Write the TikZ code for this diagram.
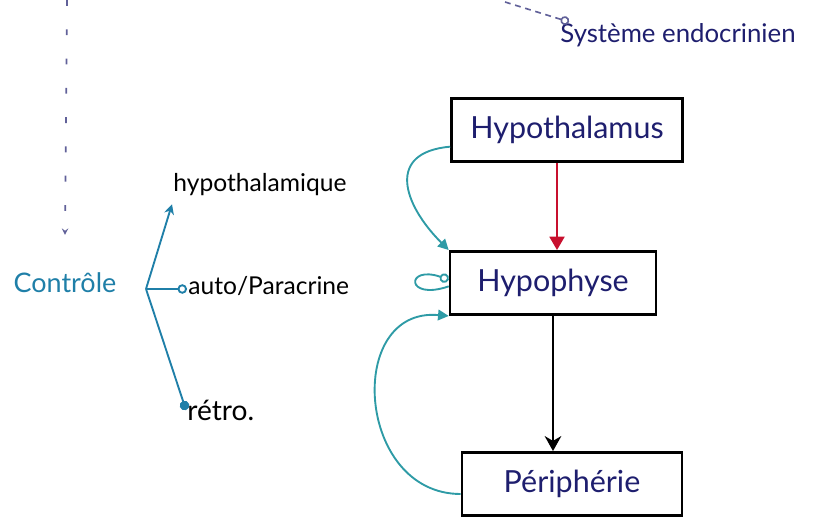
\documentclass[tikz,border=0pt]{standalone}
\usepackage{fontspec}
\setmainfont{Lato}
\usepackage{tikz}
\usetikzlibrary{arrows,arrows.meta,positioning,shapes}
\definecolor{inkblue}{HTML}{1E1E6E}
\definecolor{inkteal}{HTML}{2E9BA6}
\definecolor{inkred}{HTML}{C8102E}
\definecolor{inkctrl}{HTML}{1F7FA8}
\tikzset{
	organ/.style = {draw, line width = 2.2pt, rectangle, minimum height = 1.9cm, text = inkblue, font = \fontsize{26}{30}\selectfont},
	hand/.style = {inner sep = 1pt, font = \fontsize{21}{24}\selectfont},
	feedback/.style = {-{Triangle[length = 3.2mm, width = 3.2mm]}, line width = 1.6pt, color = inkteal},
	ctrl arrow/.style = {line width = 1.6pt, color = inkctrl},
	hint/.style = {dashed, line width = 1.4pt, dash pattern = on 5pt off 20pt, color = inkblue!70}
}
\begin{document}
\begin{tikzpicture}[x = 0.03cm, y = -0.03cm]
	\useasboundingbox (0, 0) rectangle (827, 526);

	% systeme endocrinien
	\node [organ, minimum width = 6.93cm] (hth) at (567, 130) {Hypothalamus};
	\node [organ, minimum width = 6.18cm] (hyp) at (553, 283) {Hypophyse};
	\node [organ, minimum width = 6.6cm] (per) at (572, 484) {Périphérie};
	\node [hand, text = inkblue, font = \fontsize{22}{26}\selectfont] (sys) at (678, 35) {Système endocrinien};

	\draw [-{Triangle[length = 4mm, width = 4.5mm]}, line width = 1.6pt, inkred] ([xshift = -3mm]hth.south) -- ([xshift = -3mm]hth.south |- hyp.north);
	\draw [-{Stealth[length = 4.5mm, width = 5mm]}, line width = 1.6pt] (hyp.south) -- (hyp.south |- per.north);

	\draw [feedback] ([yshift = -5mm]hth.west) to [out = 185, in = 135, looseness = 1.6] (hyp.north west);
	\draw [feedback] ([yshift = -3mm]per.west) to [out = 180, in = 175, looseness = 1.5] (hyp.south west);
	\draw [line width = 1.6pt, inkteal, -o] ([yshift = -1mm]hyp.west) .. controls +(-1.3cm, -0.45cm) and +(-1.3cm, 0.45cm) .. ([yshift = 1mm]hyp.west);

	% controle
	\node [hand, text = inkctrl, font = \fontsize{23}{26}\selectfont] (ctrl) at (65, 283) {Contrôle};
	\coordinate (fork) at (146, 289);
	\node [hand, anchor = west] (hypq) at (172, 185) {hypothalamique};
	\node [hand, anchor = west] (auto) at (187, 286) {auto/Paracrine};
	\node [hand, anchor = west, font = \fontsize{24}{28}\selectfont] (retro) at (186, 410) {rétro.};

	\draw [ctrl arrow, -{Stealth[length = 3mm, width = 3mm]}] (fork) -- ([yshift = -2mm]hypq.south west);
	\draw [ctrl arrow, -o] (fork) -- (auto.west |- fork);
	\draw [ctrl arrow, -*] (fork) -- (retro.west);

	\coordinate (up) at (67, 0);
	\draw [hint, -stealth] (up) -- ([yshift = 1.1cm]ctrl.north);
	\coordinate (sysin) at (505, 2);
	\draw [hint, dash pattern = on 5pt off 4pt, -o] (sysin) -- ([xshift = 3mm]sys.north west);
\end{tikzpicture}
\end{document}
